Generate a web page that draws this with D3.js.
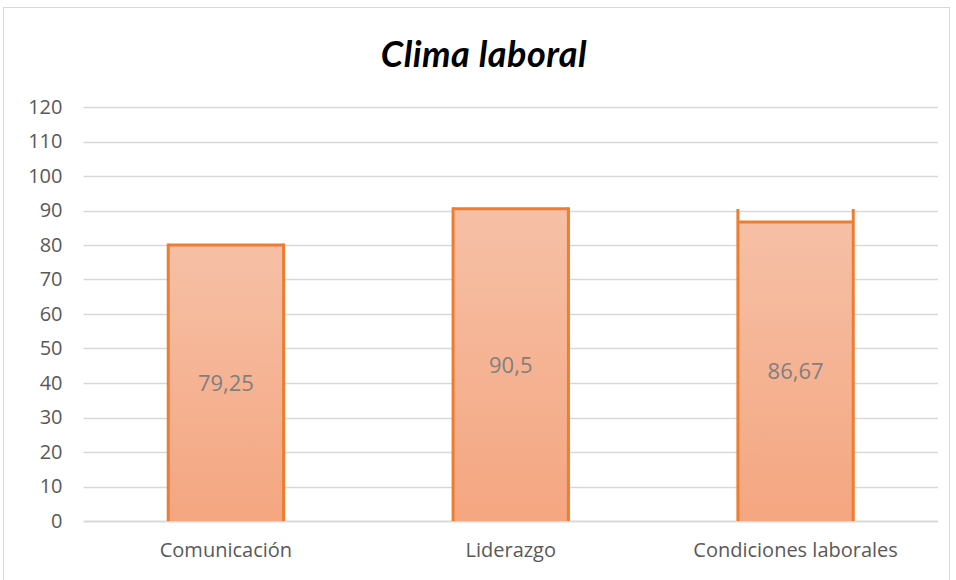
<!DOCTYPE html>
<html>
<head>
<meta charset="utf-8">
<script src="https://cdn.jsdelivr.net/npm/d3@7"></script>
<style>
  body { margin: 0; background: #fff; }
</style>
</head>
<body>
<div id="chart"></div>
<script>
// data
const categories = ["Comunicación", "Liderazgo", "Condiciones laborales"];
const labels = ["79,25", "90,5", "86,67"];
const barValues = [80, 90.5, 86.67];   // height of the fill as drawn
const frameValues = [80, 90.5, 90];    // height of the orange side borders as drawn
const yTicks = [0, 10, 20, 30, 40, 50, 60, 70, 80, 90, 100, 110, 120];

const W = 956, H = 580;
const margin = { top: 107, right: 18, bottom: 59, left: 83.5 };
const width = W - margin.left - margin.right,
  height = H - margin.top - margin.bottom;

const svg = d3.select("#chart")
  .append("svg")
  .attr("width", W)
  .attr("height", H);

// outer chart frame
svg.append("rect")
  .attr("x", 3.5).attr("y", 7.5)
  .attr("width", 946).attr("height", 600)
  .style("fill", "none")
  .style("stroke", "#d9d9d9")
  .style("stroke-width", 1);

// gradient for the bars
const grad = svg.append("defs").append("linearGradient")
  .attr("id", "barGrad")
  .attr("x1", 0).attr("y1", 0).attr("x2", 0).attr("y2", 1);
grad.append("stop").attr("offset", "0%").attr("stop-color", "#f6c0a6");
grad.append("stop").attr("offset", "100%").attr("stop-color", "#f4a680");

const g = svg.append("g")
  .attr("transform", "translate(" + margin.left + "," + margin.top + ")");

const x = d3.scaleBand()
  .domain(categories)
  .range([0, width])
  .padding(0);

const y = d3.scaleLinear()
  .domain([0, 120])
  .range([height, 0]);

// gridlines
g.append("g")
  .selectAll("line")
  .data(yTicks)
  .enter()
  .append("line")
  .attr("x1", 0).attr("x2", width)
  .attr("y1", d => Math.round(y(d)) + 0.5)
  .attr("y2", d => Math.round(y(d)) + 0.5)
  .style("stroke", "#d9d9d9")
  .style("stroke-width", d => d === 0 ? 2 : 1.5);

// y axis labels
const yAxis = g.append("g")
  .style("font-family", "'Open Sans', sans-serif")
  .style("font-size", "20px")
  .call(d3.axisLeft(y).tickValues(yTicks).tickSize(0).tickPadding(21));
yAxis.select(".domain").remove();
yAxis.selectAll("text").style("fill", "#595959");

// x axis labels
const xAxis = g.append("g")
  .attr("transform", "translate(0," + height + ")")
  .style("font-family", "'Open Sans', sans-serif")
  .style("font-size", "20px")
  .call(d3.axisBottom(x).tickSize(0).tickPadding(22));
xAxis.select(".domain").remove();
xAxis.selectAll("text").style("fill", "#595959");

const barW = x.bandwidth() * 0.405;
const bx = (d, i) => x(categories[i]) + x.bandwidth() / 2 - barW / 2;

// bar fills with top border
const bars = g.selectAll(".bar")
  .data(barValues)
  .enter()
  .append("g")
  .attr("class", "bar");

bars.append("rect")
  .attr("x", bx)
  .attr("y", d => y(d))
  .attr("width", barW)
  .attr("height", d => height - y(d))
  .style("fill", "url(#barGrad)");

bars.append("line")
  .attr("x1", bx)
  .attr("x2", (d, i) => bx(d, i) + barW)
  .attr("y1", d => y(d))
  .attr("y2", d => y(d))
  .style("stroke", "#ed7d31")
  .style("stroke-width", 3);

// side borders
g.selectAll(".side")
  .data(frameValues.flatMap((v, i) => [{ v, i, s: 0 }, { v, i, s: 1 }]))
  .enter()
  .append("line")
  .attr("x1", d => bx(d.v, d.i) + d.s * barW)
  .attr("x2", d => bx(d.v, d.i) + d.s * barW)
  .attr("y1", d => y(d.v) - 1.5)
  .attr("y2", height)
  .style("stroke", "#ed7d31")
  .style("stroke-width", 3);

// data labels
g.selectAll(".lbl")
  .data(barValues)
  .enter()
  .append("text")
  .attr("x", (d, i) => x(categories[i]) + x.bandwidth() / 2)
  .attr("y", d => (y(d) + height) / 2)
  .attr("dy", ".35em")
  .attr("text-anchor", "middle")
  .style("font-family", "'Open Sans', sans-serif")
  .style("font-size", "22px")
  .style("fill", "#7f7f7f")
  .text((d, i) => labels[i]);

// title
svg.append("text")
  .attr("x", 484)
  .attr("y", 67)
  .attr("text-anchor", "middle")
  .style("font-family", "Lato, sans-serif")
  .style("font-size", "36px")
  .style("font-weight", "bold")
  .style("font-style", "italic")
  .style("letter-spacing", "0.5px")
  .style("fill", "#000")
  .text("Clima laboral");
</script>
</body>
</html>
